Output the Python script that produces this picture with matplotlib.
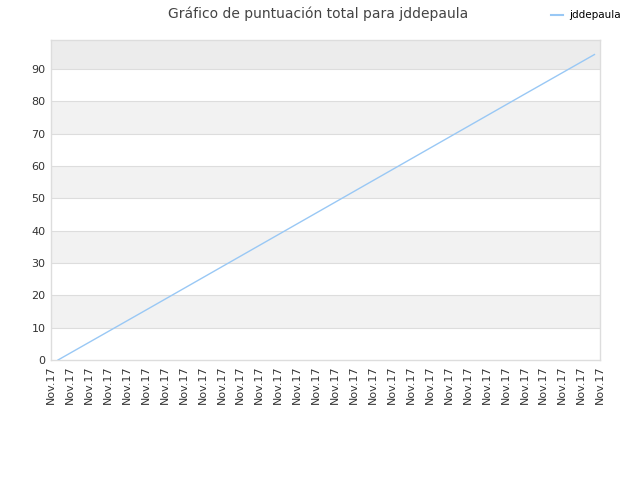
import matplotlib.pyplot as plt
from matplotlib.lines import Line2D

labels = ['Nov.17'] * 30
pos_x = [0.37, 5.0, 10.0, 15.0, 20.0, 25.0, 28.7]
scores = [0.0, 15.4, 32.1, 48.8, 65.5, 82.2, 94.5]
player = 'jddepaula'

fig = plt.figure(figsize=(6.4, 4.8), dpi=100)
ax = fig.add_axes([0.0797, 0.25, 0.858, 0.6667])

ymax = 99
ax.set_ylim(0, ymax)
ax.set_xlim(0, 29)

# bandas alternas
for lo in range(10, 90, 20):
    ax.axhspan(lo, lo + 10, color='#f2f2f2', zorder=0, lw=0)
ax.axhspan(90, ymax, color='#ececec', zorder=0, lw=0)
for v in range(10, 100, 10):
    ax.axhline(v, color='#dddddd', lw=0.8, zorder=1)

ax.plot(pos_x, scores, color='#99c8f5', lw=1.0, zorder=3)

ax.set_yticks(range(0, 100, 10))
ax.set_xticks(range(30))
ax.set_xticklabels(labels, rotation=90)
ax.tick_params(axis='both', length=0, labelsize=8, labelcolor='#333333', pad=4)
for s in ax.spines.values():
    s.set_color('#dddddd')
    s.set_linewidth(1)

fig.text(0.497, 0.972, 'Gráfico de puntuación total para jddepaula',
         ha='center', va='center', fontsize=10, color='#444444')
fig.legend(handles=[Line2D([], [], color='#99c8f5', lw=1.5)], labels=[player],
           loc='center right', bbox_to_anchor=(0.985, 0.968), frameon=False,
           fontsize=7.5, handlelength=1.2, handletextpad=0.6)

fig.savefig('out.png')
